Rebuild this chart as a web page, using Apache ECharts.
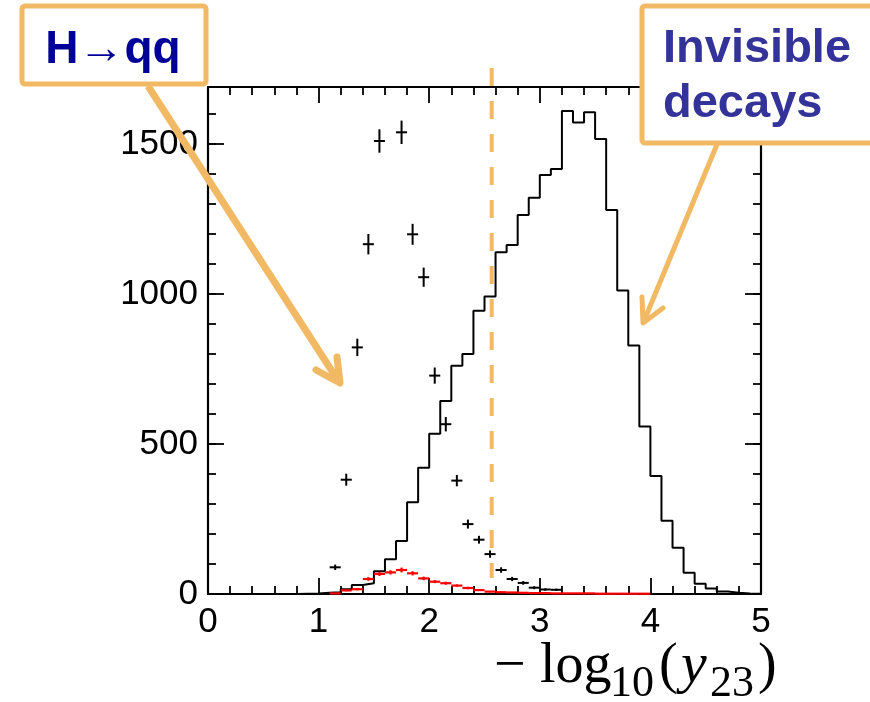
<!DOCTYPE html>
<html><head><meta charset="utf-8">
<script src="https://cdn.jsdelivr.net/npm/echarts@6/dist/echarts.min.js"></script>
<style>html,body{margin:0;padding:0;background:#fff}#c{width:870px;height:702px}</style>
</head><body><div id="c"></div>
<script>
// ---------- data ----------
const binWidth = 0.1;
const xMin = 0, xMax = 5, yMin = 0, yMax = 1690;
const xTickStep = 1, yTickStep = 500, yMinorStep = 100;
// black step histogram ("Invisible decays"), bins of 0.1 from 0 to 5
const invisibleCounts = [
  0,0,0,0,0,0,0,0,1,2,
  4,6,16,30,36,76,116,177,306,421,
  534,643,761,800,944,992,1139,1163,1263,1321,
  1397,1417,1610,1572,1606,1517,1280,1012,828,558,
  393,244,154,71,34,18,8,4,2,1
];
// black points with error bars ("H->qq")
const hqqCenters = [1.15,1.25,1.35,1.45,1.55,1.75,1.85,1.95,2.05,2.15,2.25,2.35,2.45,2.55,2.65,2.75,2.85,2.95,3.05,3.15];
const hqqCounts  = [89,381,822,1166,1510,1539,1199,1056,728,566,378,233,181,133,80,50,37,21,15,14];
const hqqErrors  = [9,20,29,34,39,39,35,32,27,24,19,15,13,12,9,7,6,5,4,4];
// red points with error bars
const redCenters = [1.15,1.25,1.35,1.45,1.55,1.65,1.75,1.85,1.95,2.05,2.15,2.25,2.35,2.45,2.55,2.65,2.75,2.85,2.95,3.05,3.15,3.25,3.35,3.45,3.55,3.65,3.75,3.85,3.95];
const redCounts  = [2,12,16,50,67,72,80,69,52,41,36,28,20,13,8,6,5,4,3,3,2,2,2,2,1,1,1,1,1];
const redErrors  = [1,3,4,6,7,7,8,7,6,5,5,4,4,3,2,2,2,2,1,1,1,1,1,1,1,1,1,1,1];
const cutValue = 2.565;
const labelH = 'H\u2192qq';
const labelInv = ['Invisible', 'decays'];

// ---------- build ----------
const histData = invisibleCounts.map((v, i) => [i * binWidth, v]);
histData.push([xMax, invisibleCounts[invisibleCounts.length - 1]]);
const hqqData = hqqCenters.map((c, i) => [c, hqqCounts[i], hqqErrors[i]]);
const redData = redCenters.map((c, i) => [c, redCounts[i], redErrors[i]]);

function crossRenderer(color, lw) {
  return function (params, api) {
    const x = api.value(0), y = api.value(1), e = api.value(2);
    const pL = api.coord([x - binWidth / 2, y]);
    const pR = api.coord([x + binWidth / 2, y]);
    const pT = api.coord([x, y + e]);
    const pB = api.coord([x, Math.max(0, y - e)]);
    return { type: 'group', children: [
      { type: 'line', shape: { x1: pL[0], y1: pL[1], x2: pR[0], y2: pR[1] }, style: { stroke: color, lineWidth: lw } },
      { type: 'line', shape: { x1: pT[0], y1: pT[1], x2: pB[0], y2: pB[1] }, style: { stroke: color, lineWidth: lw } }
    ]};
  };
}

const ORANGE = '#F2B964';
const sans = "'Liberation Sans', Arial, Helvetica, sans-serif";
const serif = "'Liberation Serif', 'Times New Roman', serif";
const axisLineStyle = { show: true, onZero: false, lineStyle: { color: '#000', width: 2.2 } };

function xAx(pos, labels) {
  return {
    type: 'value', position: pos, min: xMin, max: xMax, interval: xTickStep,
    axisLine: axisLineStyle,
    axisTick: { show: true, inside: true, length: 16, lineStyle: { color: '#000', width: 1.8 } },
    minorTick: { show: true, splitNumber: 5, length: 8, lineStyle: { color: '#000', width: 1.8 } },
    axisLabel: { show: labels, color: '#000', fontSize: 35, fontFamily: sans, margin: 11 },
    splitLine: { show: false }, minorSplitLine: { show: false }
  };
}
function yAx(pos, step, len, labels, line) {
  return {
    type: 'value', position: pos, min: yMin, max: yMax, interval: step,
    axisLine: line ? axisLineStyle : { show: false, onZero: false },
    axisTick: { show: true, inside: true, length: len, lineStyle: { color: '#000', width: 1.8 } },
    axisLabel: { show: labels, color: '#000', fontSize: 35, fontFamily: sans, margin: 10,
      showMaxLabel: false,
      formatter: v => (v % yTickStep === 0 ? String(v) : '') },
    splitLine: { show: false }
  };
}

const chart = echarts.init(document.getElementById('c'), null, { renderer: 'canvas' });
chart.setOption({
  animation: false,
  backgroundColor: '#fff',
  grid: { left: 208, right: 109, top: 87, bottom: 108, containLabel: false },
  xAxis: [xAx('bottom', true), xAx('top', false)],
  yAxis: [
    yAx('left', yTickStep, 16, true, true),
    yAx('left', yMinorStep, 8, false, false),
    yAx('right', yTickStep, 16, false, true),
    yAx('right', yMinorStep, 8, false, false)
  ],
  series: [
    { type: 'line', step: 'end', data: histData, xAxisIndex: 0, yAxisIndex: 0,
      symbol: 'none', lineStyle: { color: '#000', width: 2 }, z: 3 },
    { type: 'custom', data: hqqData, xAxisIndex: 0, yAxisIndex: 0, encode: { x: 0, y: 1 },
      renderItem: crossRenderer('#000', 2), z: 4 },
    { type: 'custom', data: redData, xAxisIndex: 0, yAxisIndex: 0, encode: { x: 0, y: 1 },
      renderItem: crossRenderer('#ff0000', 2.2), z: 5 }
  ]
});

const cutPx = chart.convertToPixel({ xAxisIndex: 0 }, cutValue);
chart.setOption({
  graphic: [
    { type: 'line', z: 50, shape: { x1: cutPx, y1: 68, x2: cutPx, y2: 578 },
      style: { stroke: ORANGE, lineWidth: 4, lineDash: [18, 15] } },
    // arrow H->qq
    { type: 'polyline', z: 60, shape: { points: [[148, 86], [339, 382]] },
      style: { stroke: ORANGE, lineWidth: 7, fill: null } },
    { type: 'polyline', z: 60, shape: { points: [[316, 370], [340, 383], [337, 357]] },
      style: { stroke: ORANGE, lineWidth: 7, fill: null, lineJoin: 'round', lineCap: 'round' } },
    // arrow invisible
    { type: 'polyline', z: 60, shape: { points: [[718, 142], [644, 321]] },
      style: { stroke: ORANGE, lineWidth: 5, fill: null } },
    { type: 'polyline', z: 60, shape: { points: [[642, 297], [643, 323], [663, 308]] },
      style: { stroke: ORANGE, lineWidth: 5, fill: null, lineJoin: 'round', lineCap: 'round' } },
    // boxes
    { type: 'rect', z: 70, shape: { x: 22, y: 6, width: 184, height: 78, r: 3 },
      style: { fill: '#fff', stroke: ORANGE, lineWidth: 5 } },
    { type: 'text', z: 71, x: 113, y: 50,
      style: { text: labelH, fill: '#000099', font: 'bold 46px ' + sans, textAlign: 'center', textVerticalAlign: 'middle' } },
    { type: 'rect', z: 70, shape: { x: 642, y: 6, width: 260, height: 137, r: 3 },
      style: { fill: '#fff', stroke: ORANGE, lineWidth: 5 } },
    { type: 'text', z: 71, x: 663, y: 49,
      style: { text: labelInv[0], fill: '#333399', font: 'bold 47px ' + sans, textAlign: 'left', textVerticalAlign: 'middle' } },
    { type: 'text', z: 71, x: 663, y: 104,
      style: { text: labelInv[1], fill: '#333399', font: 'bold 47px ' + sans, textAlign: 'left', textVerticalAlign: 'middle' } },
    // axis title  -log10(y23)
    { type: 'text', z: 71, x: 494, y: 667, style: { text: '\u2212', fill: '#000', font: '56px ' + serif, textAlign: 'left', textVerticalAlign: 'middle' } },
    { type: 'text', z: 71, x: 540, y: 667, style: { text: 'log', fill: '#000', font: '56px ' + serif, textAlign: 'left', textVerticalAlign: 'middle' } },
    { type: 'text', z: 71, x: 610, y: 684, style: { text: '10', fill: '#000', font: '44px ' + serif, textAlign: 'left', textVerticalAlign: 'middle' } },
    { type: 'text', z: 71, x: 659, y: 667, style: { text: '(', fill: '#000', font: '56px ' + serif, textAlign: 'left', textVerticalAlign: 'middle' } },
    { type: 'text', z: 71, x: 681, y: 667, style: { text: 'y', fill: '#000', font: 'italic 58px ' + serif, textAlign: 'left', textVerticalAlign: 'middle' } },
    { type: 'text', z: 71, x: 710, y: 684, style: { text: '23', fill: '#000', font: '44px ' + serif, textAlign: 'left', textVerticalAlign: 'middle' } },
    { type: 'text', z: 71, x: 758, y: 667, style: { text: ')', fill: '#000', font: '56px ' + serif, textAlign: 'left', textVerticalAlign: 'middle' } }
  ]
});
</script>
</body></html>
